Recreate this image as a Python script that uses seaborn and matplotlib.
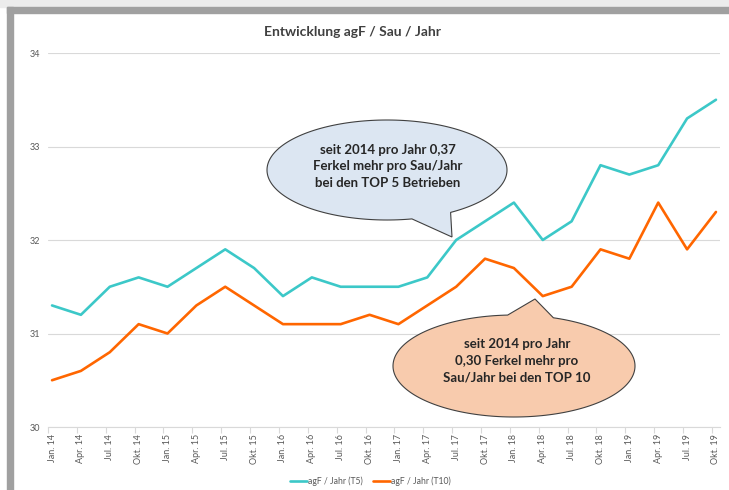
import numpy as np
import pandas as pd
import matplotlib.pyplot as plt
from matplotlib.patches import Polygon, Rectangle
import seaborn as sns

# quarterly values
quarters = [
    "Jan. 14", "Apr. 14", "Jul. 14", "Okt. 14",
    "Jan. 15", "Apr. 15", "Jul. 15", "Okt. 15",
    "Jan. 16", "Apr. 16", "Jul. 16", "Okt. 16",
    "Jan. 17", "Apr. 17", "Jul. 17", "Okt. 17",
    "Jan. 18", "Apr. 18", "Jul. 18", "Okt. 18",
    "Jan. 19", "Apr. 19", "Jul. 19", "Okt. 19",
]
agf_t5 = [31.3, 31.2, 31.5, 31.6, 31.5, 31.7, 31.9, 31.7,
          31.4, 31.6, 31.5, 31.5, 31.5, 31.6, 32.0, 32.2,
          32.4, 32.0, 32.2, 32.8, 32.7, 32.8, 33.3, 33.5]
agf_t10 = [30.5, 30.6, 30.8, 31.1, 31.0, 31.3, 31.5, 31.3,
           31.1, 31.1, 31.1, 31.2, 31.1, 31.3, 31.5, 31.8,
           31.7, 31.4, 31.5, 31.9, 31.8, 32.4, 31.9, 32.3]
series_names = ["agF / Jahr (T5)", "agF / Jahr (T10)"]
colors = ["#3CC8C8", "#FF6600"]

W, H = 729, 490

df = pd.concat([
    pd.DataFrame({"pos": range(len(quarters)), "wert": agf_t5, "reihe": series_names[0]}),
    pd.DataFrame({"pos": range(len(quarters)), "wert": agf_t10, "reihe": series_names[1]}),
])

sns.set_theme(style="white")
plt.rcParams["font.family"] = ["Lato", "DejaVu Sans"]

fig = plt.figure(figsize=(W / 100, H / 100), dpi=100)
ax = fig.add_axes([48 / W, 1 - 427 / H, (720 - 48) / W, (427 - 53) / H])

sns.lineplot(data=df, x="pos", y="wert", hue="reihe", palette=colors,
             linewidth=1.9, ax=ax)

grey = "#595959"
ax.set_ylim(30, 34)
ax.set_yticks([30, 31, 32, 33, 34])
ax.set_xlim(-0.14, len(quarters) - 1 + 0.14)
ax.set_xticks(range(len(quarters)))
ax.set_xticklabels(quarters, rotation=90, fontsize=6.5, color=grey)
ax.set_xticks(np.arange(len(quarters)) - 0.14, minor=True)
ax.tick_params(axis="x", which="major", length=0, pad=5)
ax.tick_params(axis="x", which="minor", length=4, color="#d9d9d9", width=0.8, bottom=True)
ax.tick_params(axis="y", length=0, pad=6, labelsize=6.5, labelcolor=grey)
ax.set_xlabel("")
ax.set_ylabel("")
ax.yaxis.grid(True, color="#d9d9d9", linewidth=0.8)
for side in ["top", "right", "left"]:
    ax.spines[side].set_visible(False)
ax.spines["bottom"].set_color("#d9d9d9")
ax.spines["bottom"].set_linewidth(0.8)

sns.move_legend(ax, "center", bbox_to_anchor=(370 / W, 1 - 481 / H),
                bbox_transform=fig.transFigure, ncol=2, frameon=False,
                title=None, fontsize=6.2, handlelength=2.0,
                handletextpad=0.1, columnspacing=1.2)
for t in ax.get_legend().get_texts():
    t.set_color(grey)

fig.text(353 / W, 1 - 32 / H, "Entwicklung agF / Sau / Jahr",
         ha="center", va="center", fontsize=10, fontweight="bold", color="#404040")

# frame like the screenshot
fig.patches.append(Rectangle((0, 1 - 7 / H), 1, 7 / H, transform=fig.transFigure,
                             color="#ececec", zorder=0))
fig.patches.append(Rectangle((7 / W, 1 - 13 / H), 1, 6 / H, transform=fig.transFigure,
                             color="#a0a0a0", zorder=0))
fig.patches.append(Rectangle((7 / W, 0), 6 / W, 1 - 7 / H, transform=fig.transFigure,
                             color="#a0a0a0", zorder=0))


def bubble(cx, cy, a, b, ang1, ang2, tip, fc):
    # ellipse in pixel coords (y down) with the tail arc between ang1..ang2 cut out
    t = np.radians(np.linspace(ang2, ang1 + 360, 200))
    xs = list(cx + a * np.cos(t)) + [tip[0]]
    ys = list(cy + b * np.sin(t)) + [tip[1]]
    pts = [(x / W, 1 - y / H) for x, y in zip(xs, ys)]
    fig.patches.append(Polygon(pts, closed=True, transform=fig.transFigure,
                               facecolor=fc, edgecolor="#404040", linewidth=0.8,
                               zorder=5))


bubble(387, 170, 120, 50, 58, 78, (452, 237), "#DCE6F2")
bubble(514, 366, 121, 51, -93, -71, (535, 299), "#F8CBAD")

fig.text(388 / W, 1 - 166 / H,
         "seit 2014 pro Jahr 0,37\nFerkel mehr pro Sau/Jahr\nbei den TOP 5 Betrieben",
         ha="center", va="center", fontsize=9.5, fontweight="bold", color="#262626",
         linespacing=1.45, zorder=6)
fig.text(517 / W, 1 - 361 / H,
         "seit 2014 pro Jahr\n0,30 Ferkel mehr pro\nSau/Jahr bei den TOP 10",
         ha="center", va="center", fontsize=9.5, fontweight="bold", color="#262626",
         linespacing=1.45, zorder=6)

fig.savefig("out.png", dpi=100)
